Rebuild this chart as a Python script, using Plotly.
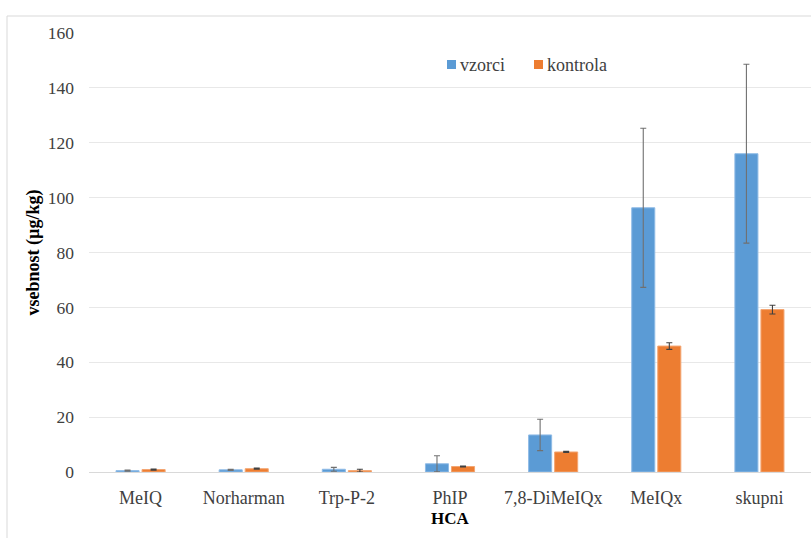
import plotly.graph_objects as go

# HCA content per compound: samples (vzorci) vs. control (kontrola)
categories = ["MeIQ", "Norharman", "Trp-P-2", "PhIP", "7,8-DiMeIQx", "MeIQx", "skupni"]
vzorci = [0.5, 0.8, 1.0, 3.0, 13.5, 96.3, 116.0]
vzorci_err = [0.2, 0.2, 0.7, 2.9, 5.7, 29.0, 32.6]
kontrola = [0.9, 1.2, 0.5, 2.0, 7.3, 45.9, 59.2]
kontrola_err = [0.2, 0.2, 0.5, 0.2, 0.2, 1.2, 1.6]
y_ticks = [0, 20, 40, 60, 80, 100, 120, 140, 160]
series_names = ["vzorci", "kontrola"]

FONT = "Liberation Serif"
BLUE = "#5B9BD5"
ORANGE = "#ED7D31"

fig = go.Figure()
fig.add_trace(go.Bar(
    name=series_names[0], x=categories, y=vzorci, showlegend=False,
    marker=dict(color=BLUE, line=dict(color="#8fbbe6", width=1)),
    error_y=dict(type="data", array=vzorci_err, color="#707070", thickness=1.1, width=3),
))
fig.add_trace(go.Bar(
    name=series_names[1], x=categories, y=kontrola, showlegend=False,
    marker=dict(color=ORANGE, line=dict(color="#f3a673", width=1)),
    error_y=dict(type="data", array=kontrola_err, color="#404040", thickness=1.1, width=3),
))

W, H = 811, 538
L, R, T, B = 89, 0, 33, 66
pw, ph = W - L - R, H - T - B


def px_x(p):
    return (p - L) / pw


def px_y(p):
    return (H - B - p) / ph


fig.update_layout(
    width=W, height=H,
    margin=dict(l=L, r=R, t=T, b=B, pad=0),
    paper_bgcolor="white", plot_bgcolor="white",
    font=dict(family=FONT, size=17, color="#404040"),
    barmode="group", bargap=0.495, bargroupgap=0.115,
    xaxis=dict(
        showgrid=False, showline=True, linecolor="#d9d9d9", linewidth=1,
        ticks="", ticklabelstandoff=9,
        tickfont=dict(family=FONT, size=18, color="#404040"),
        title=dict(text="<b>HCA</b>", font=dict(family=FONT, size=17, color="#000000"), standoff=5),
    ),
    yaxis=dict(
        range=[0, 160], tickvals=y_ticks,
        showgrid=True, gridcolor="#e8e8e8", gridwidth=1,
        zeroline=False, showline=False, ticks="", ticklabelstandoff=14,
        tickfont=dict(family=FONT, size=17.5, color="#404040"),
        title=dict(text="<b>vsebnost (µg/kg)</b>", font=dict(family=FONT, size=18, color="#000000"), standoff=3),
    ),
)

# legend: colour key squares with serif labels
legend_items = [(series_names[0], BLUE, 447), (series_names[1], ORANGE, 534)]
for label, color, x0 in legend_items:
    fig.add_shape(type="rect", xref="paper", yref="paper",
                  x0=px_x(x0), x1=px_x(x0 + 9), y0=px_y(69), y1=px_y(60),
                  fillcolor=color, line=dict(width=0))
    fig.add_annotation(text=label, xref="paper", yref="paper",
                       x=px_x(x0 + 11), y=px_y(64.5), xanchor="left", yanchor="middle",
                       showarrow=False, font=dict(family=FONT, size=18, color="#404040"))

# outer chart-area border (left and top edges visible)
fig.add_shape(type="line", xref="paper", yref="paper",
              x0=px_x(7), x1=1.05, y0=px_y(16), y1=px_y(16),
              line=dict(color="#d9d9d9", width=1))
fig.add_shape(type="line", xref="paper", yref="paper",
              x0=px_x(7), x1=px_x(7), y0=-0.3, y1=px_y(16),
              line=dict(color="#d9d9d9", width=1))

fig.write_html("out.html")
